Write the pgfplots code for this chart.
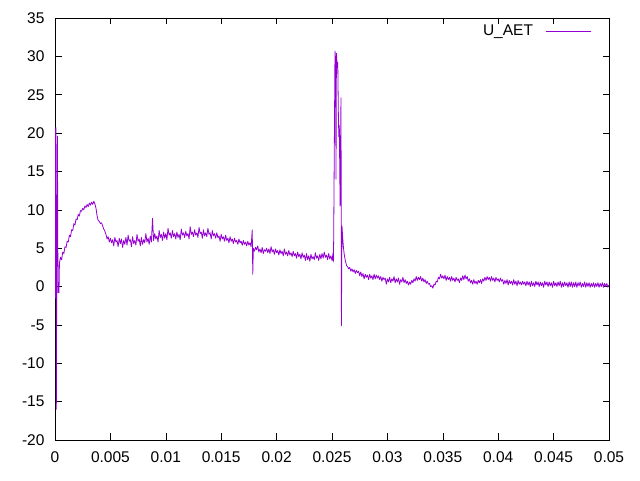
\documentclass[border=0pt]{standalone}
\usepackage{fontspec}
\setmainfont{Liberation Sans}
\usepackage{pgfplots}
\pgfplotsset{compat=1.18}
\definecolor{gpviolet}{RGB}{148,0,211}

\begin{document}
\begin{tikzpicture}
\begin{axis}[
    name=ax,
    scale only axis,
    width=554pt, height=422pt,
    xmin=0, xmax=0.05,
    ymin=-20, ymax=35,
    xtick={0,0.005,0.01,0.015,0.02,0.025,0.03,0.035,0.04,0.045,0.05},
    xticklabels={0,0.005,0.01,0.015,0.02,0.025,0.03,0.035,0.04,0.045,0.05},
    ytick={-20,-15,-10,-5,0,5,10,15,20,25,30,35},
    yticklabels={-20,-15,-10,-5,0,5,10,15,20,25,30,35},
    scaled x ticks=false,
    xtick pos=both, ytick pos=both,
    tick align=inside,
    major tick length=6.5pt,
    tick style={black, line width=0.6pt},
    axis line style={black, line width=0.8pt},
    ticklabel style={font=\fontsize{15.5}{18}\selectfont},
    xticklabel style={yshift=-8pt},
    yticklabel style={xshift=-7pt},
    legend style={draw=none, fill=none, at={(1,1)}, anchor=north east,
        xshift=-14pt, yshift=-3pt, column sep=11pt,
        font=\fontsize{15.5}{18}\selectfont},
    legend plot pos=right,
    legend image code/.code={\draw[#1] (0pt,0pt) -- (45pt,0pt);},
]
% one row per sample: time, U_AET
\addplot[gpviolet, line width=0.8pt, line join=round] table {
0 20.5
0.00004 -1.5
0.00008 20.7
0.00012 -16.0
0.00016 2.0
0.00022 19.6
0.00027 -0.8
0.00032 0.5
0.00036 -0.8
0.0004 3.1
0.0005 3.8
0.0006 3.5
0.0007 4.5
0.0008 4.3
0.0009 5.2
0.0010 5.1
0.0011 5.9
0.0012 5.8
0.0013 6.7
0.0014 6.5
0.0015 7.4
0.0016 7.3
0.0017 8.2
0.0018 8.0
0.0019 8.8
0.0020 8.7
0.0021 9.4
0.0022 9.2
0.0023 9.9
0.0024 9.8
0.0025 10.2
0.0026 10.0
0.0027 10.5
0.0028 10.3
0.0029 10.7
0.0030 10.4
0.0031 10.9
0.0032 10.6
0.0033 11.0
0.0034 10.7
0.0035 11.1
0.0036 10.8
0.0037 10.2
0.0038 9.2
0.0039 8.6
0.0040 8.5
0.0041 8.2
0.0042 8.3
0.0043 7.9
0.0044 7.5
0.0045 7.2
0.0046 6.8
0.0047 6.2
0.0048 6.5
0.0049 5.8
0.0050 6.3
0.0051 5.7
0.0052 6.1
0.0053 5.3
0.0054 6.4
0.0055 5.8
0.0056 6.0
0.0057 5.2
0.0058 6.3
0.0059 5.6
0.0060 6.2
0.0061 5.1
0.0062 6.0
0.0063 5.5
0.0064 6.4
0.0065 5.4
0.0066 6.7
0.0067 5.9
0.0068 6.1
0.0069 5.2
0.0070 6.5
0.0071 5.6
0.0072 6.0
0.0073 5.4
0.0074 6.8
0.0075 5.9
0.0076 6.2
0.0077 5.3
0.0078 6.4
0.0079 5.5
0.0080 6.1
0.0081 5.7
0.0082 6.9
0.0083 5.8
0.0084 6.3
0.0085 5.5
0.0086 6.6
0.0087 5.8
0.0088 8.9
0.0089 6.0
0.0090 6.9
0.0091 6.2
0.0092 6.6
0.0093 5.8
0.0094 7.3
0.0095 6.4
0.0096 6.8
0.0097 6.0
0.0098 7.1
0.0099 6.3
0.0100 6.9
0.0101 6.1
0.0102 7.6
0.0103 6.7
0.0104 7.0
0.0105 6.3
0.0106 7.3
0.0107 6.5
0.0108 6.9
0.0109 6.2
0.0110 7.1
0.0111 6.4
0.0112 6.8
0.0113 6.1
0.0114 7.5
0.0115 6.7
0.0116 7.0
0.0117 6.4
0.0118 7.2
0.0119 6.6
0.0120 6.9
0.0121 6.2
0.0122 7.8
0.0123 6.8
0.0124 7.1
0.0125 6.5
0.0126 7.4
0.0127 6.7
0.0128 7.0
0.0129 6.4
0.0130 7.7
0.0131 6.9
0.0132 7.1
0.0133 6.3
0.0134 7.4
0.0135 6.6
0.0136 7.0
0.0137 6.5
0.0138 7.6
0.0139 6.8
0.0140 7.0
0.0141 6.2
0.0142 7.3
0.0143 6.6
0.0144 6.9
0.0145 6.3
0.0146 7.0
0.0147 6.4
0.0148 6.6
0.0149 5.9
0.0150 6.8
0.0151 6.2
0.0152 6.5
0.0153 5.9
0.0154 6.7
0.0155 6.0
0.0156 6.3
0.0157 5.7
0.0158 6.5
0.0159 5.9
0.0160 6.2
0.0161 5.6
0.0162 6.3
0.0163 5.8
0.0164 6.0
0.0165 5.5
0.0166 6.2
0.0167 5.7
0.0168 5.9
0.0169 5.4
0.0170 6.0
0.0171 5.5
0.0172 5.8
0.0173 5.3
0.0174 5.9
0.0175 5.4
0.0176 5.7
0.0177 5.2
0.01780 7.4
0.01785 1.6
0.0179 5.0
0.0180 4.6
0.0181 5.1
0.0182 4.8
0.0183 5.3
0.0184 4.5
0.0185 4.9
0.0186 4.4
0.0187 5.1
0.0188 4.3
0.0189 4.8
0.0190 4.6
0.0191 5.0
0.0192 4.4
0.0193 4.9
0.0194 4.3
0.0195 5.2
0.0196 4.5
0.0197 4.8
0.0198 4.2
0.0199 4.9
0.0200 4.4
0.0201 4.7
0.0202 4.1
0.0203 4.8
0.0204 4.3
0.0205 4.6
0.0206 4.0
0.0207 4.9
0.0208 4.2
0.0209 4.5
0.0210 4.0
0.0211 4.7
0.0212 4.1
0.0213 4.4
0.0214 3.9
0.0215 4.6
0.0216 4.0
0.0217 4.3
0.0218 3.7
0.0219 4.5
0.0220 3.9
0.0221 4.2
0.0222 3.6
0.0223 4.4
0.0224 3.8
0.0225 4.1
0.0226 3.4
0.0227 4.3
0.0228 3.5
0.0229 4.0
0.0230 3.3
0.0231 4.2
0.0232 3.6
0.0233 3.9
0.0234 3.5
0.0235 4.4
0.0236 3.7
0.0237 4.0
0.0238 3.4
0.0239 4.2
0.0240 3.6
0.0241 4.3
0.0242 3.7
0.0243 4.5
0.0244 3.8
0.0245 4.1
0.0246 3.5
0.0247 4.3
0.0248 3.6
0.0249 4.0
0.0250 3.4
0.0251 4.4
0.02512 3.2
0.02515 6.0
0.02527 30.7
0.02533 29.5
0.02536 14.0
0.02540 30.4
0.02548 28.5
0.02552 29.2
0.02558 21.8
0.02562 19.5
0.02566 21.0
0.02570 15.3
0.02573 10.5
0.02577 18.0
0.02581 24.6
0.02583 12.0
0.02585 -5.1
0.02590 7.9
0.02596 6.5
0.02602 5.3
0.02610 4.2
0.02620 3.4
0.02632 2.7
0.0264 2.6
0.0265 2.3
0.0266 2.5
0.0267 2.0
0.0268 2.3
0.0269 1.9
0.0270 2.2
0.0271 1.7
0.0272 2.1
0.0273 1.8
0.0274 2.0
0.0275 1.4
0.0276 1.9
0.0277 1.3
0.0278 1.7
0.0279 1.0
0.0280 1.6
0.0281 1.2
0.0282 1.5
0.0283 0.9
0.0284 1.6
0.0285 1.1
0.0286 1.4
0.0287 0.9
0.0288 1.6
0.0289 1.0
0.0290 1.5
0.0291 1.1
0.0292 1.4
0.0293 0.9
0.0294 1.3
0.0295 0.7
0.0296 1.2
0.0297 0.9
0.0298 1.1
0.0299 0.3
0.0300 1.0
0.0301 0.6
0.0302 1.2
0.0303 0.5
0.0304 1.0
0.0305 0.7
0.0306 1.3
0.0307 0.5
0.0308 1.0
0.0309 0.6
0.0310 1.1
0.0311 0.3
0.0312 0.9
0.0313 0.6
0.0314 1.2
0.0315 0.5
0.0316 0.9
0.0317 0.4
0.0318 0.7
0.0319 0.2
0.0320 0.6
0.0321 0.3
0.0322 0.8
0.0323 0.5
0.0324 1.0
0.0325 0.7
0.0326 1.3
0.0327 0.8
0.0328 1.2
0.0329 0.9
0.0330 1.3
0.0331 0.7
0.0332 1.1
0.0333 0.6
0.0334 0.9
0.0335 0.4
0.0336 0.7
0.0337 0.3
0.0338 0.4
0.0339 0.0
0.0340 0.1
0.0341 -0.2
0.0342 0.3
0.0343 0.2
0.0344 0.7
0.0345 0.6
0.0346 1.2
0.0347 1.0
0.0348 1.6
0.0349 1.1
0.0350 1.4
0.0351 1.0
0.0352 1.5
0.0353 0.8
0.0354 1.3
0.0355 0.9
0.0356 1.2
0.0357 0.7
0.0358 1.3
0.0359 0.8
0.0360 1.1
0.0361 0.6
0.0362 1.2
0.0363 0.8
0.0364 1.0
0.0365 0.5
0.0366 1.1
0.0367 0.8
0.0368 1.4
0.0369 0.9
0.0370 1.5
0.0371 1.0
0.0372 1.3
0.0373 0.7
0.0374 1.0
0.0375 0.5
0.0376 0.8
0.0377 0.3
0.0378 0.9
0.0379 0.4
0.0380 0.7
0.0381 0.3
0.0382 0.8
0.0383 0.5
0.0384 0.9
0.0385 0.4
0.0386 1.0
0.0387 0.7
0.0388 1.2
0.0389 0.8
0.0390 1.3
0.0391 0.9
0.0392 1.2
0.0393 0.7
0.0394 1.3
0.0395 0.8
0.0396 1.1
0.0397 0.6
0.0398 1.2
0.0399 0.8
0.0400 1.0
0.0401 0.6
0.0402 1.1
0.0403 0.7
0.0404 0.9
0.0405 0.3
0.0406 0.8
0.0407 0.4
0.0408 0.9
0.0409 0.2
0.0410 0.8
0.0411 0.4
0.0412 0.7
0.0413 0.2
0.0414 0.9
0.0415 0.3
0.0416 0.7
0.0417 0.1
0.0418 0.8
0.0419 0.3
0.0420 0.6
0.0421 0.2
0.0422 0.7
0.0423 0.3
0.0424 0.6
0.0425 0.1
0.0426 0.7
0.0427 0.2
0.0428 0.6
0.0429 0.0
0.0430 0.7
0.0431 0.1
0.0432 0.5
0.0433 0.0
0.0434 0.7
0.0435 0.2
0.0436 0.6
0.0437 0.0
0.0438 0.6
0.0439 0.1
0.0440 0.5
0.0441 -0.1
0.0442 0.7
0.0443 0.2
0.0444 0.6
0.0445 0.0
0.0446 0.6
0.0447 0.1
0.0448 0.5
0.0449 -0.1
0.0450 0.7
0.0451 0.1
0.0452 0.5
0.0453 0.0
0.0454 0.6
0.0455 0.1
0.0456 0.7
0.0457 -0.1
0.0458 0.5
0.0459 0.0
0.0460 0.6
0.0461 0.1
0.0462 0.5
0.0463 -0.1
0.0464 0.6
0.0465 0.0
0.0466 0.6
0.0467 -0.1
0.0468 0.5
0.0469 0.0
0.0470 0.6
0.0471 -0.1
0.0472 0.5
0.0473 0.1
0.0474 0.6
0.0475 -0.1
0.0476 0.4
0.0477 0.0
0.0478 0.6
0.0479 -0.1
0.0480 0.5
0.0481 0.0
0.0482 0.5
0.0483 -0.1
0.0484 0.4
0.0485 0.0
0.0486 0.5
0.0487 -0.1
0.0488 0.4
0.0489 0.0
0.0490 0.5
0.0491 -0.1
0.0492 0.4
0.0493 0.0
0.0494 0.5
0.0495 -0.1
0.0496 0.4
0.0497 0.0
0.0498 0.4
0.0499 -0.1
0.0500 0.2
};
\addlegendentry{U\_AET}
\end{axis}
\path ([xshift=-55pt,yshift=-40pt]ax.south west) rectangle ([xshift=31pt,yshift=18pt]ax.north east);
\end{tikzpicture}
\end{document}
